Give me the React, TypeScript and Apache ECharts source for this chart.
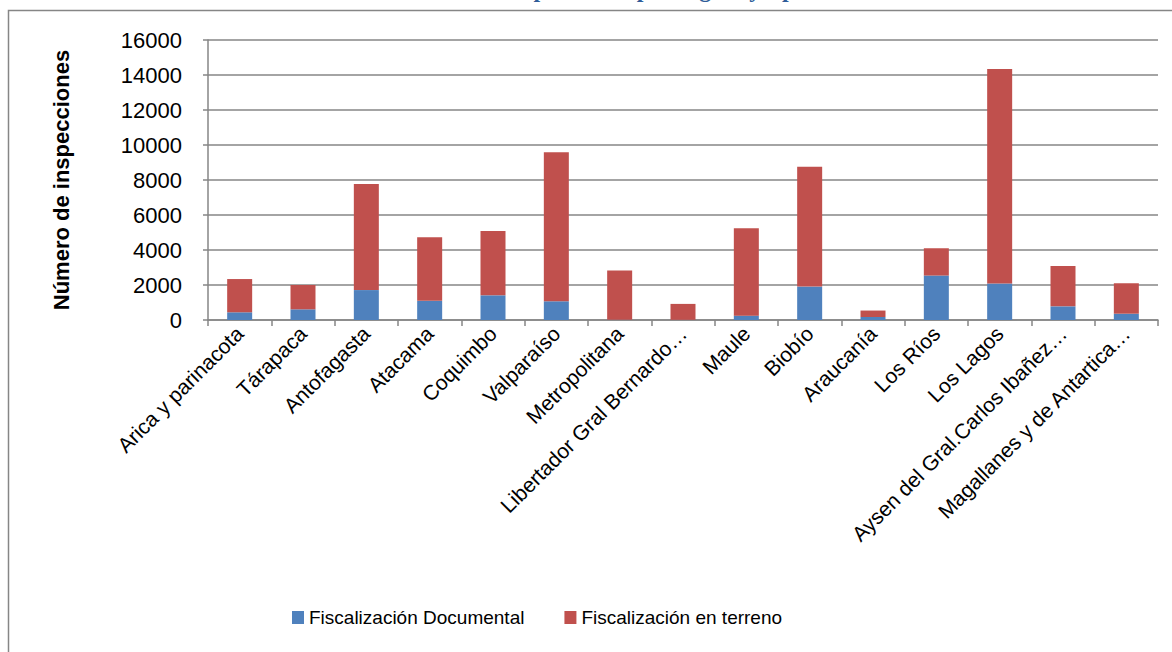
import React, { useEffect, useRef } from "react";
import * as echarts from "echarts";

const regions = [
  "Arica y parinacota",
  "Tárapaca",
  "Antofagasta",
  "Atacama",
  "Coquimbo",
  "Valparaíso",
  "Metropolitana",
  "Libertador Gral Bernardo…",
  "Maule",
  "Biobío",
  "Araucanía",
  "Los Ríos",
  "Los Lagos",
  "Aysen del Gral.Carlos Ibañez…",
  "Magallanes y de Antartica…",
];

const documental = [440, 610, 1710, 1100, 1410, 1070, 20, 10, 250, 1910, 170, 2540, 2080, 780, 360];
const terreno = [1900, 1390, 6060, 3630, 3680, 8520, 2810, 910, 5000, 6850, 370, 1560, 12260, 2310, 1740];

const seriesNames = ["Fiscalización Documental", "Fiscalización en terreno"];
const yTicks = { min: 0, max: 16000, interval: 2000 };
const titleText = "Inspecciones por región y tipo de fiscalización";
const yAxisTitle = "Número de inspecciones";

const FONT = "'Liberation Sans', Arial, sans-serif";
const GRAY = "#868686";

export default function App() {
  const ref = useRef<HTMLDivElement>(null);

  useEffect(() => {
    document.body.style.margin = "0";
    const chart = echarts.init(ref.current!, null, { renderer: "svg" });
    chart.setOption({
      animation: false,
      backgroundColor: "#ffffff",
      textStyle: { fontFamily: FONT },
      graphic: [
        {
          type: "rect",
          shape: { x: 8.5, y: 10.5, width: 1300, height: 800 },
          style: { fill: "none", stroke: GRAY, lineWidth: 1.5 },
          silent: true,
        },
        {
          type: "text",
          x: 735,
          y: 0.5,
          style: {
            text: titleText,
            fill: "#2F5C99",
            font: "bold 24px 'Liberation Serif', 'DejaVu Serif', serif",
            textAlign: "center",
            textVerticalAlign: "bottom",
          },
          silent: true,
        },
      ],
      grid: { left: 208, right: 14, top: 40, bottom: 332, containLabel: false },
      legend: {
        left: 287,
        top: 603,
        itemWidth: 12,
        itemHeight: 13,
        itemGap: 40,
        icon: "rect",
        textStyle: { fontSize: 19, color: "#000", fontFamily: FONT },
        data: seriesNames,
      },
      xAxis: {
        type: "category",
        data: regions,
        axisLine: { lineStyle: { color: GRAY, width: 1.5 } },
        axisTick: { show: true, length: 6, lineStyle: { color: GRAY, width: 1.5 } },
        axisLabel: {
          rotate: 45,
          interval: 0,
          margin: 10,
          color: "#000",
          fontSize: 21,
          fontFamily: FONT,
        },
      },
      yAxis: {
        type: "value",
        min: yTicks.min,
        max: yTicks.max,
        interval: yTicks.interval,
        name: yAxisTitle,
        nameLocation: "middle",
        nameRotate: 90,
        nameGap: 136,
        nameTextStyle: { fontSize: 22, fontWeight: "bold", color: "#000", fontFamily: FONT },
        axisLine: { show: true, lineStyle: { color: GRAY, width: 1.5 } },
        axisTick: { show: true, length: 5, lineStyle: { color: GRAY, width: 1.5 } },
        axisLabel: {
          color: "#000",
          fontSize: 22,
          margin: 26,
          fontFamily: FONT,
          formatter: (v: number) => String(v),
        },
        splitLine: { show: true, lineStyle: { color: GRAY, width: 1.5 } },
      },
      series: [
        {
          name: seriesNames[0],
          type: "bar",
          stack: "total",
          data: documental,
          barWidth: 25,
          itemStyle: { color: "#4F81BD" },
        },
        {
          name: seriesNames[1],
          type: "bar",
          stack: "total",
          data: terreno,
          barWidth: 25,
          itemStyle: { color: "#C0504D" },
        },
      ],
    });
    return () => chart.dispose();
  }, []);

  return <div ref={ref} style={{ width: 1172, height: 652 }} />;
}
